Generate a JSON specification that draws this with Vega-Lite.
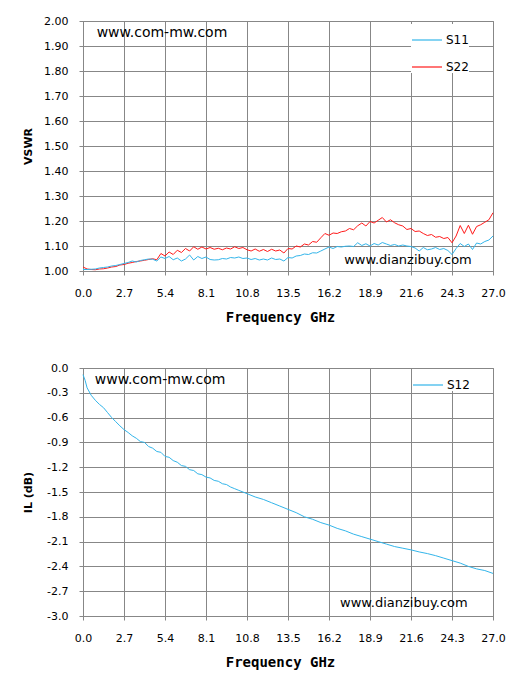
{
  "$schema": "https://vega.github.io/schema/vega-lite/v6.json",
  "background": "white",
  "padding": {"top": 14, "left": 21, "right": 5, "bottom": 5},
  "spacing": 36,
  "config": {
    "view": {"stroke": "#878787", "strokeWidth": 1},
    "axis": {"gridColor": "#878787", "gridOpacity": 1, "domainColor": "#878787", "tickColor": "#878787", "tickSize": 4, "labelColor": "#000", "labelFont": "DejaVu Sans", "labelFontSize": 11, "titleColor": "#000", "labelOverlap": false, "labelFlush": false},
    "axisX": {"labelPadding": 12, "labelAngle": 0, "titleFont": "DejaVu Sans Mono", "titleFontSize": 14, "titleFontWeight": "bold", "titlePadding": 12, "titleX": 197},
    "axisY": {"labelPadding": 11, "titleFont": "DejaVu Sans", "titleFontSize": 11, "titleFontWeight": "bold", "titlePadding": 10, "minExtent": 40, "maxExtent": 40, "labelOverlap": false},
    "legend": {"labelFont": "DejaVu Sans", "labelFontSize": 12, "labelColor": "#000", "symbolType": "stroke", "symbolStrokeWidth": 1.2, "symbolSize": 900, "fillColor": "white", "padding": 0, "rowPadding": 5, "labelOffset": 3, "labelExpr": "datum.label + '   '"}
  },
  "datasets": {
    "vswr": [
      {"f":0,"s":"S22","v":1.016},{"f":0.27,"s":"S22","v":1.008},{"f":0.54,"s":"S22","v":1.006},{"f":0.81,"s":"S22","v":1.005},{"f":1.08,"s":"S22","v":1.008},
      {"f":1.35,"s":"S22","v":1.009},{"f":1.62,"s":"S22","v":1.012},{"f":1.89,"s":"S22","v":1.016},{"f":2.16,"s":"S22","v":1.018},{"f":2.43,"s":"S22","v":1.024},
      {"f":2.7,"s":"S22","v":1.026},{"f":2.97,"s":"S22","v":1.031},{"f":3.24,"s":"S22","v":1.034},{"f":3.51,"s":"S22","v":1.038},{"f":3.78,"s":"S22","v":1.04},
      {"f":4.05,"s":"S22","v":1.043},{"f":4.32,"s":"S22","v":1.046},{"f":4.59,"s":"S22","v":1.049},{"f":4.86,"s":"S22","v":1.045},{"f":5.13,"s":"S22","v":1.07},
      {"f":5.4,"s":"S22","v":1.06},{"f":5.67,"s":"S22","v":1.076},{"f":5.94,"s":"S22","v":1.066},{"f":6.21,"s":"S22","v":1.083},{"f":6.48,"s":"S22","v":1.074},
      {"f":6.75,"s":"S22","v":1.09},{"f":7.02,"s":"S22","v":1.08},{"f":7.29,"s":"S22","v":1.097},{"f":7.56,"s":"S22","v":1.087},{"f":7.83,"s":"S22","v":1.096},
      {"f":8.1,"s":"S22","v":1.088},{"f":8.37,"s":"S22","v":1.094},{"f":8.64,"s":"S22","v":1.087},{"f":8.91,"s":"S22","v":1.091},{"f":9.18,"s":"S22","v":1.085},
      {"f":9.45,"s":"S22","v":1.092},{"f":9.72,"s":"S22","v":1.088},{"f":9.99,"s":"S22","v":1.097},{"f":10.26,"s":"S22","v":1.09},{"f":10.53,"s":"S22","v":1.094},
      {"f":10.8,"s":"S22","v":1.085},{"f":11.07,"s":"S22","v":1.08},{"f":11.34,"s":"S22","v":1.088},{"f":11.61,"s":"S22","v":1.079},{"f":11.88,"s":"S22","v":1.086},
      {"f":12.15,"s":"S22","v":1.078},{"f":12.42,"s":"S22","v":1.087},{"f":12.69,"s":"S22","v":1.08},{"f":12.96,"s":"S22","v":1.084},{"f":13.23,"s":"S22","v":1.072},
      {"f":13.5,"s":"S22","v":1.09},{"f":13.77,"s":"S22","v":1.088},{"f":14.04,"s":"S22","v":1.1},{"f":14.31,"s":"S22","v":1.096},{"f":14.58,"s":"S22","v":1.108},
      {"f":14.85,"s":"S22","v":1.104},{"f":15.12,"s":"S22","v":1.118},{"f":15.39,"s":"S22","v":1.115},{"f":15.66,"s":"S22","v":1.133},{"f":15.93,"s":"S22","v":1.15},
      {"f":16.2,"s":"S22","v":1.143},{"f":16.47,"s":"S22","v":1.152},{"f":16.74,"s":"S22","v":1.15},{"f":17.01,"s":"S22","v":1.157},{"f":17.28,"s":"S22","v":1.16},
      {"f":17.55,"s":"S22","v":1.17},{"f":17.82,"s":"S22","v":1.165},{"f":18.09,"s":"S22","v":1.181},{"f":18.36,"s":"S22","v":1.192},{"f":18.63,"s":"S22","v":1.18},
      {"f":18.9,"s":"S22","v":1.198},{"f":19.17,"s":"S22","v":1.192},{"f":19.44,"s":"S22","v":1.203},{"f":19.71,"s":"S22","v":1.214},{"f":19.98,"s":"S22","v":1.196},
      {"f":20.25,"s":"S22","v":1.205},{"f":20.52,"s":"S22","v":1.193},{"f":20.79,"s":"S22","v":1.185},{"f":21.06,"s":"S22","v":1.18},{"f":21.33,"s":"S22","v":1.166},
      {"f":21.6,"s":"S22","v":1.17},{"f":21.87,"s":"S22","v":1.158},{"f":22.14,"s":"S22","v":1.16},{"f":22.41,"s":"S22","v":1.15},{"f":22.68,"s":"S22","v":1.142},
      {"f":22.95,"s":"S22","v":1.146},{"f":23.22,"s":"S22","v":1.135},{"f":23.49,"s":"S22","v":1.138},{"f":23.76,"s":"S22","v":1.13},{"f":24.03,"s":"S22","v":1.134},
      {"f":24.3,"s":"S22","v":1.113},{"f":24.57,"s":"S22","v":1.14},{"f":24.84,"s":"S22","v":1.182},{"f":25.11,"s":"S22","v":1.15},{"f":25.38,"s":"S22","v":1.183},
      {"f":25.65,"s":"S22","v":1.147},{"f":25.92,"s":"S22","v":1.178},{"f":26.19,"s":"S22","v":1.185},{"f":26.46,"s":"S22","v":1.195},{"f":26.73,"s":"S22","v":1.205},
      {"f":27,"s":"S22","v":1.233},
      {"f":0,"s":"S11","v":1.006},{"f":0.27,"s":"S11","v":1.006},{"f":0.54,"s":"S11","v":1.007},{"f":0.81,"s":"S11","v":1.008},{"f":1.08,"s":"S11","v":1.012},
      {"f":1.35,"s":"S11","v":1.014},{"f":1.62,"s":"S11","v":1.016},{"f":1.89,"s":"S11","v":1.02},{"f":2.16,"s":"S11","v":1.022},{"f":2.43,"s":"S11","v":1.026},
      {"f":2.7,"s":"S11","v":1.03},{"f":2.97,"s":"S11","v":1.034},{"f":3.24,"s":"S11","v":1.04},{"f":3.51,"s":"S11","v":1.036},{"f":3.78,"s":"S11","v":1.042},
      {"f":4.05,"s":"S11","v":1.045},{"f":4.32,"s":"S11","v":1.048},{"f":4.59,"s":"S11","v":1.047},{"f":4.86,"s":"S11","v":1.04},{"f":5.13,"s":"S11","v":1.056},
      {"f":5.4,"s":"S11","v":1.05},{"f":5.67,"s":"S11","v":1.058},{"f":5.94,"s":"S11","v":1.045},{"f":6.21,"s":"S11","v":1.052},{"f":6.48,"s":"S11","v":1.04},
      {"f":6.75,"s":"S11","v":1.048},{"f":7.02,"s":"S11","v":1.064},{"f":7.29,"s":"S11","v":1.044},{"f":7.56,"s":"S11","v":1.058},{"f":7.83,"s":"S11","v":1.05},
      {"f":8.1,"s":"S11","v":1.056},{"f":8.37,"s":"S11","v":1.046},{"f":8.64,"s":"S11","v":1.044},{"f":8.91,"s":"S11","v":1.045},{"f":9.18,"s":"S11","v":1.05},
      {"f":9.45,"s":"S11","v":1.048},{"f":9.72,"s":"S11","v":1.054},{"f":9.99,"s":"S11","v":1.052},{"f":10.26,"s":"S11","v":1.056},{"f":10.53,"s":"S11","v":1.05},
      {"f":10.8,"s":"S11","v":1.052},{"f":11.07,"s":"S11","v":1.046},{"f":11.34,"s":"S11","v":1.05},{"f":11.61,"s":"S11","v":1.044},{"f":11.88,"s":"S11","v":1.048},
      {"f":12.15,"s":"S11","v":1.044},{"f":12.42,"s":"S11","v":1.052},{"f":12.69,"s":"S11","v":1.046},{"f":12.96,"s":"S11","v":1.048},{"f":13.23,"s":"S11","v":1.04},
      {"f":13.5,"s":"S11","v":1.054},{"f":13.77,"s":"S11","v":1.052},{"f":14.04,"s":"S11","v":1.06},{"f":14.31,"s":"S11","v":1.062},{"f":14.58,"s":"S11","v":1.068},
      {"f":14.85,"s":"S11","v":1.066},{"f":15.12,"s":"S11","v":1.073},{"f":15.39,"s":"S11","v":1.072},{"f":15.66,"s":"S11","v":1.08},{"f":15.93,"s":"S11","v":1.088},
      {"f":16.2,"s":"S11","v":1.096},{"f":16.47,"s":"S11","v":1.09},{"f":16.74,"s":"S11","v":1.098},{"f":17.01,"s":"S11","v":1.096},{"f":17.28,"s":"S11","v":1.099},
      {"f":17.55,"s":"S11","v":1.1},{"f":17.82,"s":"S11","v":1.098},{"f":18.09,"s":"S11","v":1.113},{"f":18.36,"s":"S11","v":1.102},{"f":18.63,"s":"S11","v":1.109},
      {"f":18.9,"s":"S11","v":1.1},{"f":19.17,"s":"S11","v":1.11},{"f":19.44,"s":"S11","v":1.104},{"f":19.71,"s":"S11","v":1.114},{"f":19.98,"s":"S11","v":1.108},
      {"f":20.25,"s":"S11","v":1.102},{"f":20.52,"s":"S11","v":1.106},{"f":20.79,"s":"S11","v":1.1},{"f":21.06,"s":"S11","v":1.104},{"f":21.33,"s":"S11","v":1.1},
      {"f":21.6,"s":"S11","v":1.098},{"f":21.87,"s":"S11","v":1.092},{"f":22.14,"s":"S11","v":1.08},{"f":22.41,"s":"S11","v":1.094},{"f":22.68,"s":"S11","v":1.085},
      {"f":22.95,"s":"S11","v":1.088},{"f":23.22,"s":"S11","v":1.094},{"f":23.49,"s":"S11","v":1.086},{"f":23.76,"s":"S11","v":1.09},{"f":24.03,"s":"S11","v":1.082},
      {"f":24.3,"s":"S11","v":1.066},{"f":24.57,"s":"S11","v":1.09},{"f":24.84,"s":"S11","v":1.11},{"f":25.11,"s":"S11","v":1.098},{"f":25.38,"s":"S11","v":1.108},
      {"f":25.65,"s":"S11","v":1.086},{"f":25.92,"s":"S11","v":1.112},{"f":26.19,"s":"S11","v":1.108},{"f":26.46,"s":"S11","v":1.118},{"f":26.73,"s":"S11","v":1.124},
      {"f":27,"s":"S11","v":1.14}
    ],
    "il": [
      {"f":0,"s":"S12","v":-0.08},{"f":0.14,"s":"S12","v":-0.15},{"f":0.27,"s":"S12","v":-0.24},{"f":0.54,"s":"S12","v":-0.33},{"f":0.81,"s":"S12","v":-0.39},
      {"f":1.08,"s":"S12","v":-0.44},{"f":1.35,"s":"S12","v":-0.48},{"f":1.62,"s":"S12","v":-0.54},{"f":1.89,"s":"S12","v":-0.6},{"f":2.16,"s":"S12","v":-0.65},
      {"f":2.43,"s":"S12","v":-0.7},{"f":2.7,"s":"S12","v":-0.745},{"f":2.97,"s":"S12","v":-0.78},{"f":3.24,"s":"S12","v":-0.82},{"f":3.51,"s":"S12","v":-0.85},
      {"f":3.78,"s":"S12","v":-0.89},{"f":4.05,"s":"S12","v":-0.9},{"f":4.32,"s":"S12","v":-0.95},{"f":4.59,"s":"S12","v":-0.97},{"f":4.86,"s":"S12","v":-1.01},
      {"f":5.13,"s":"S12","v":-1.02},{"f":5.4,"s":"S12","v":-1.07},{"f":5.67,"s":"S12","v":-1.08},{"f":5.94,"s":"S12","v":-1.12},{"f":6.21,"s":"S12","v":-1.14},
      {"f":6.48,"s":"S12","v":-1.18},{"f":6.75,"s":"S12","v":-1.19},{"f":7.02,"s":"S12","v":-1.23},{"f":7.29,"s":"S12","v":-1.24},{"f":7.56,"s":"S12","v":-1.28},
      {"f":7.83,"s":"S12","v":-1.29},{"f":8.1,"s":"S12","v":-1.32},{"f":8.37,"s":"S12","v":-1.33},{"f":8.64,"s":"S12","v":-1.36},{"f":8.91,"s":"S12","v":-1.37},
      {"f":9.18,"s":"S12","v":-1.4},{"f":9.45,"s":"S12","v":-1.41},{"f":9.72,"s":"S12","v":-1.44},{"f":9.99,"s":"S12","v":-1.46},{"f":10.26,"s":"S12","v":-1.48},
      {"f":10.8,"s":"S12","v":-1.52},{"f":11.34,"s":"S12","v":-1.56},{"f":11.88,"s":"S12","v":-1.59},{"f":12.42,"s":"S12","v":-1.63},{"f":12.96,"s":"S12","v":-1.67},
      {"f":13.5,"s":"S12","v":-1.71},{"f":14.04,"s":"S12","v":-1.75},{"f":14.58,"s":"S12","v":-1.8},{"f":15.12,"s":"S12","v":-1.83},{"f":15.66,"s":"S12","v":-1.87},
      {"f":16.2,"s":"S12","v":-1.9},{"f":16.74,"s":"S12","v":-1.94},{"f":17.28,"s":"S12","v":-1.97},{"f":17.82,"s":"S12","v":-2.01},{"f":18.36,"s":"S12","v":-2.04},
      {"f":18.9,"s":"S12","v":-2.07},{"f":19.44,"s":"S12","v":-2.1},{"f":19.98,"s":"S12","v":-2.13},{"f":20.52,"s":"S12","v":-2.16},{"f":21.06,"s":"S12","v":-2.18},
      {"f":21.6,"s":"S12","v":-2.2},{"f":22.14,"s":"S12","v":-2.225},{"f":22.68,"s":"S12","v":-2.245},{"f":23.22,"s":"S12","v":-2.27},{"f":23.76,"s":"S12","v":-2.3},
      {"f":24.3,"s":"S12","v":-2.33},{"f":24.84,"s":"S12","v":-2.36},{"f":25.38,"s":"S12","v":-2.4},{"f":25.92,"s":"S12","v":-2.43},{"f":26.46,"s":"S12","v":-2.45},
      {"f":27,"s":"S12","v":-2.485}
    ]
  },
  "resolve": {"scale": {"color": "independent"}, "legend": {"color": "independent"}},
  "vconcat": [
    {
      "width": 410,
      "height": 250,
      "encoding": {
        "x": {"field": "f", "type": "quantitative", "title": "Frequency GHz", "scale": {"domain": [0, 27], "nice": false, "zero": false}, "axis": {"values": [0, 2.7, 5.4, 8.1, 10.8, 13.5, 16.2, 18.9, 21.6, 24.3, 27], "format": ".1f", "labelOverlap": false}},
        "y": {"field": "v", "type": "quantitative", "title": "VSWR", "scale": {"domain": [1, 2], "nice": false, "zero": false}, "axis": {"values": [1, 1.1, 1.2, 1.3, 1.4, 1.5, 1.6, 1.7, 1.8, 1.9, 2], "format": ".2f", "labelOverlap": false}}
      },
      "layer": [
        {
          "data": {"name": "vswr"},
          "mark": {"type": "line", "strokeWidth": 1},
          "encoding": {
            "color": {"field": "s", "type": "nominal", "scale": {"domain": ["S11", "S22"], "range": ["#33b5ea", "#ff1a1a"]}, "legend": {"title": null, "orient": "none", "legendX": 328, "legendY": 3}}
          }
        },
        {
          "data": {"values": [{"f": 0.9, "v": 1.951, "t": "www.com-mw.com"}]},
          "mark": {"type": "text", "align": "left", "baseline": "middle", "font": "DejaVu Sans", "fontSize": 14, "color": "#000"},
          "encoding": {"text": {"field": "t"}}
        },
        {
          "data": {"values": [{"f": 17.2, "v": 1.044, "t": "www.dianzibuy.com"}]},
          "mark": {"type": "text", "align": "left", "baseline": "middle", "font": "DejaVu Sans", "fontSize": 13, "color": "#000"},
          "encoding": {"text": {"field": "t"}}
        }
      ]
    },
    {
      "width": 410,
      "height": 248,
      "encoding": {
        "x": {"field": "f", "type": "quantitative", "title": "Frequency GHz", "scale": {"domain": [0, 27], "nice": false, "zero": false}, "axis": {"values": [0, 2.7, 5.4, 8.1, 10.8, 13.5, 16.2, 18.9, 21.6, 24.3, 27], "format": ".1f", "labelOverlap": false}},
        "y": {"field": "v", "type": "quantitative", "title": "IL (dB)", "scale": {"domain": [-3, 0], "nice": false, "zero": false}, "axis": {"values": [0, -0.3, -0.6, -0.9, -1.2, -1.5, -1.8, -2.1, -2.4, -2.7, -3], "labelExpr": "replace(format(datum.value, '.1f'), '\u2212', '-')", "labelOverlap": false}}
      },
      "layer": [
        {
          "data": {"name": "il"},
          "mark": {"type": "line", "strokeWidth": 1},
          "encoding": {
            "color": {"field": "s", "type": "nominal", "scale": {"domain": ["S12"], "range": ["#33b5ea"]}, "legend": {"title": null, "orient": "none", "legendX": 329, "legendY": 1}}
          }
        },
        {
          "data": {"values": [{"f": 0.78, "v": -0.14, "t": "www.com-mw.com"}]},
          "mark": {"type": "text", "align": "left", "baseline": "middle", "font": "DejaVu Sans", "fontSize": 14, "color": "#000"},
          "encoding": {"text": {"field": "t"}}
        },
        {
          "data": {"values": [{"f": 16.93, "v": -2.84, "t": "www.dianzibuy.com"}]},
          "mark": {"type": "text", "align": "left", "baseline": "middle", "font": "DejaVu Sans", "fontSize": 13, "color": "#000"},
          "encoding": {"text": {"field": "t"}}
        }
      ]
    }
  ]
}
